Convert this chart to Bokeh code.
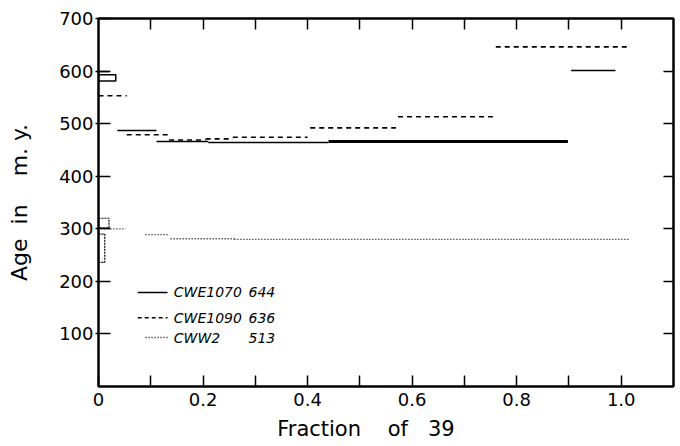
from bokeh.plotting import figure
from bokeh.models import Range1d, LinearAxis, FixedTicker, ColumnDataSource
from bokeh.core.properties import value
from bokeh.embed import file_html
from bokeh.resources import INLINE

# ---------------- data ----------------
# CWE1070 (solid): step spectrum, cumulative fraction of 39Ar vs age (m.y.)
cwe1070_left = [0.036, 0.111, 0.21, 0.44, 0.904]
cwe1070_right = [0.111, 0.21, 0.44, 0.898, 0.989]
cwe1070_age = [487, 466, 464, 466, 601]
cwe1070_box_left = [0.0]
cwe1070_box_right = [0.033]
cwe1070_box_low = [581]
cwe1070_box_high = [593]
cwe1070_tick_left = [0.0]
cwe1070_tick_right = [0.02]
cwe1070_tick_age = [599]

# CWE1090 (dashed)
cwe1090_left = [0.0, 0.054, 0.135, 0.205, 0.257, 0.405, 0.573, 0.76]
cwe1090_right = [0.054, 0.135, 0.205, 0.257, 0.40, 0.569, 0.755, 1.013]
cwe1090_age = [553, 479, 469, 471, 474, 492, 513, 646]

# CWW2 (dotted)
cww2_left = [0.0, 0.09, 0.138, 0.26]
cww2_right = [0.052, 0.132, 0.26, 1.015]
cww2_age = [300, 289, 281, 280]
cww2_box_left = [0.0, 0.0]
cww2_box_right = [0.012, 0.02]
cww2_box_low = [236, 302]
cww2_box_high = [290, 320]

# legend
legend_names = ["CWE1070", "CWE1090", "CWW2"]
legend_values = ["644", "636", "513"]

# axes
x_label_ticks = [0.0, 0.2, 0.4, 0.6, 0.8, 1.0]
x_minor_ticks = [0.1, 0.3, 0.5, 0.7, 0.9]
x_tick_labels = {0.0: "0", 0.2: "0.2", 0.4: "0.4", 0.6: "0.6", 0.8: "0.8", 1.0: "1.0"}
x_top_ticks = [0.1, 0.2, 0.3, 0.4, 0.5, 0.6, 0.7, 0.8, 0.9, 1.0]
y_ticks = [100, 200, 300, 400, 500, 600, 700]
y_right_ticks = [100, 200, 300, 400, 500, 600]

# ---------------- layout / style ----------------
FONT = "DejaVu Sans"
thick_step_index = 3          # the heavy CWE1070 plateau step
legend_line_x0 = [0.075, 0.075, 0.090]
legend_line_x1 = [0.132, 0.132, 0.132]
legend_y = [179, 131, 93]
legend_name_x = 0.144
legend_value_x = 0.287
NB = "\u00a0"

p = figure(width=680, height=446, output_backend="svg", toolbar_location=None,
           x_range=Range1d(0, 1.1), y_range=Range1d(0, 700),
           min_border_left=98, min_border_right=7, min_border_top=18, min_border_bottom=60)
p.background_fill_color = "white"
p.border_fill_color = "white"
p.outline_line_color = "black"
p.outline_line_width = 2
p.grid.visible = False

# bottom axis
xa = p.xaxis[0]
xa.ticker = FixedTicker(ticks=x_label_ticks, minor_ticks=x_minor_ticks)
xa.major_label_overrides = x_tick_labels
xa.major_tick_in = 11
xa.major_tick_out = 0
xa.minor_tick_in = 11
xa.minor_tick_out = 0
xa.minor_tick_line_color = "black"
xa.major_tick_line_width = 1.5
xa.minor_tick_line_width = 1.5
xa.axis_line_width = 2
xa.major_label_standoff = 6
xa.major_label_text_font = FONT
xa.major_label_text_font_size = "18px"
xa.major_label_text_color = "black"
xa.axis_label = "Fraction" + NB * 4 + "of" + NB * 3 + "39" + NB * 6
xa.axis_label_text_font = FONT
xa.axis_label_text_font_size = "21px"
xa.axis_label_text_font_style = "normal"
xa.axis_label_text_color = "black"
xa.axis_label_standoff = 8

# left axis
ya = p.yaxis[0]
ya.ticker = FixedTicker(ticks=y_ticks)
ya.minor_tick_line_color = None
ya.major_tick_in = 12
ya.major_tick_out = 3
ya.major_tick_line_width = 1.5
ya.axis_line_width = 2
ya.major_label_standoff = 2
ya.major_label_text_font = FONT
ya.major_label_text_font_size = "18px"
ya.major_label_text_color = "black"
ya.axis_label = "Age" + NB * 2 + "in" + NB * 4 + "m." + NB + "y."
ya.axis_label_text_font = FONT
ya.axis_label_text_font_size = "22px"
ya.axis_label_text_font_style = "normal"
ya.axis_label_text_color = "black"
ya.axis_label_standoff = 24

# top and right axes: inward ticks only (as minor ticks, so no labels are drawn)
top = LinearAxis(ticker=FixedTicker(ticks=[], minor_ticks=x_top_ticks),
                 minor_tick_in=11, minor_tick_out=0, minor_tick_line_width=1.5,
                 minor_tick_line_color="black", major_tick_line_color=None,
                 axis_line_width=2, major_label_standoff=0)
p.add_layout(top, "above")
right = LinearAxis(ticker=FixedTicker(ticks=[], minor_ticks=y_right_ticks),
                   minor_tick_in=10, minor_tick_out=0, minor_tick_line_width=1.5,
                   minor_tick_line_color="black", major_tick_line_color=None,
                   axis_line_width=2, major_label_standoff=0)
p.add_layout(right, "right")

# ---------------- marks ----------------
# CWE1070
thin = [i for i in range(len(cwe1070_age)) if i != thick_step_index]
p.segment(x0=[cwe1070_left[i] for i in thin], x1=[cwe1070_right[i] for i in thin],
          y0=[cwe1070_age[i] for i in thin], y1=[cwe1070_age[i] for i in thin],
          line_color="black", line_width=1.6)
p.segment(x0=[cwe1070_left[thick_step_index]], x1=[cwe1070_right[thick_step_index]],
          y0=[cwe1070_age[thick_step_index]], y1=[cwe1070_age[thick_step_index]],
          line_color="black", line_width=3.2)
p.quad(left=cwe1070_box_left, right=cwe1070_box_right, bottom=cwe1070_box_low, top=cwe1070_box_high,
       fill_color=None, line_color="black", line_width=1.5)
p.segment(x0=cwe1070_tick_left, x1=cwe1070_tick_right, y0=cwe1070_tick_age, y1=cwe1070_tick_age,
          line_color="black", line_width=1.5)

# CWE1090
p.segment(x0=cwe1090_left, x1=cwe1090_right, y0=cwe1090_age, y1=cwe1090_age,
          line_color="black", line_width=1.6, line_dash="5 4")

# CWW2
p.segment(x0=cww2_left, x1=cww2_right, y0=cww2_age, y1=cww2_age,
          line_color="black", line_width=1.3, line_dash="1 2")
p.quad(left=cww2_box_left, right=cww2_box_right, bottom=cww2_box_low, top=cww2_box_high,
       fill_color=None, line_color="black", line_width=1.2, line_dash="2 1")

# legend
dashes = ["solid", "4 3", "1 2"]
for i in range(3):
    p.line(x=[legend_line_x0[i], legend_line_x1[i]], y=[legend_y[i], legend_y[i]],
           line_color="black", line_width=1.5, line_dash=dashes[i])
src = ColumnDataSource(dict(x=[legend_name_x] * 3, y=legend_y, t=legend_names))
p.text(x="x", y="y", text="t", source=src, text_font=value(FONT), text_font_size="14px",
       text_font_style="italic", text_baseline="middle", text_align="left", text_color="black")
src2 = ColumnDataSource(dict(x=[legend_value_x] * 3, y=legend_y, t=legend_values))
p.text(x="x", y="y", text="t", source=src2, text_font=value(FONT), text_font_size="14px",
       text_font_style="italic", text_baseline="middle", text_align="left", text_color="black")

open("out.html", "w").write(file_html(p, INLINE))
